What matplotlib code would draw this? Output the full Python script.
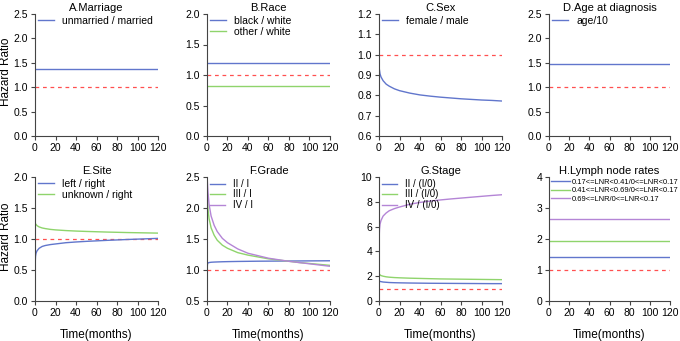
import numpy as np
import matplotlib
matplotlib.use("Agg")
import matplotlib.pyplot as plt

plt.rcParams['font.family'] = ['Liberation Sans', 'DejaVu Sans']

BLUE = '#6176cc'
GREEN = '#8fd46c'
PURPLE = '#b485d6'
RED = '#ff5050'

# time grid (months) for constant hazard ratios
t_const = [0, 120]

# A. Marriage
marriage_hr = 1.37
# B. Race
race_black = 1.20
race_other = 0.82
# D. Age
age_hr = 1.47
# H. Lymph node rates
lnr_1 = 1.43
lnr_2 = 1.92
lnr_3 = 2.65

# C. Sex (time-varying)
t_sex = [0.3, 1, 2, 4, 7, 10, 15, 20, 30, 40, 50, 60, 70, 80, 90, 100, 110, 120]
sex_hr = [0.93, 0.905, 0.89, 0.872, 0.855, 0.845, 0.832, 0.823, 0.811, 0.802, 0.796, 0.791, 0.787, 0.783, 0.780, 0.777, 0.775, 0.772]

# E. Site
t_site = [0, 0.2, 0.5, 1, 2, 4, 7, 10, 15, 20, 30, 40, 50, 60, 70, 80, 90, 100, 110, 120]
site_left = [0.0, 0.62, 0.72, 0.77, 0.81, 0.85, 0.88, 0.895, 0.91, 0.92, 0.94, 0.952, 0.962, 0.97, 0.978, 0.985, 0.992, 0.998, 1.004, 1.01]
site_unknown = [1.26, 1.255, 1.245, 1.235, 1.215, 1.195, 1.178, 1.168, 1.155, 1.147, 1.136, 1.128, 1.122, 1.117, 1.112, 1.108, 1.104, 1.101, 1.098, 1.095]

# F. Grade
t_grade = [0, 0.2, 0.5, 1, 2, 4, 7, 10, 15, 20, 30, 40, 50, 60, 70, 80, 90, 100, 110, 120]
grade_2 = [0.5, 1.05, 1.1, 1.115, 1.12, 1.125, 1.128, 1.13, 1.133, 1.135, 1.138, 1.14, 1.142, 1.143, 1.144, 1.145, 1.146, 1.147, 1.148, 1.149]
grade_3 = [2.3, 2.2, 2.1, 1.98, 1.83, 1.68, 1.56, 1.48, 1.40, 1.35, 1.28, 1.24, 1.21, 1.18, 1.16, 1.14, 1.12, 1.105, 1.09, 1.075]
grade_4 = [2.55, 2.48, 2.38, 2.25, 2.06, 1.87, 1.72, 1.62, 1.51, 1.44, 1.34, 1.27, 1.23, 1.19, 1.165, 1.14, 1.12, 1.10, 1.08, 1.06]

# G. Stage
t_stage = [0, 0.2, 0.5, 1, 2, 4, 7, 10, 15, 20, 30, 40, 50, 60, 70, 80, 90, 100, 110, 120]
stage_2 = [1.65, 1.62, 1.6, 1.58, 1.56, 1.53, 1.51, 1.49, 1.475, 1.465, 1.45, 1.44, 1.43, 1.425, 1.42, 1.415, 1.41, 1.405, 1.40, 1.40]
stage_3 = [2.25, 2.2, 2.15, 2.1, 2.05, 2.0, 1.95, 1.92, 1.89, 1.87, 1.84, 1.82, 1.80, 1.78, 1.77, 1.76, 1.75, 1.74, 1.73, 1.72]
stage_4 = [2.0, 5.2, 5.8, 6.2, 6.5, 6.85, 7.1, 7.28, 7.45, 7.58, 7.8, 7.95, 8.06, 8.15, 8.23, 8.3, 8.37, 8.44, 8.51, 8.57]

W, H = 680, 341
fig = plt.figure(figsize=(W / 100, H / 100), dpi=100)

lefts = [35, 207, 379, 549]
widths = [123, 123, 123, 121]


def make_ax(col, top, bottom):
    return fig.add_axes([lefts[col] / W, (H - bottom) / H, widths[col] / W, (bottom - top) / H])


def style(ax, title, yticks, ylabels, xlab=False):
    ax.set_xlim(0, 120)
    ax.set_ylim(yticks[0], yticks[-1])
    ax.set_xticks([0, 20, 40, 60, 80, 100, 120])
    ax.set_yticks(yticks)
    ax.set_yticklabels(ylabels)
    for s in ['top', 'right']:
        ax.spines[s].set_visible(False)
    for s in ['left', 'bottom']:
        ax.spines[s].set_color('#444444')
        ax.spines[s].set_linewidth(0.8)
    ax.tick_params(labelsize=7.5, length=3, width=0.8, color='#444444', pad=2)
    ax.set_title(title, fontsize=8, pad=2.5)
    if xlab:
        ax.set_xlabel('Time(months)', fontsize=8.5, labelpad=8)
    ax.axhline(1.0, color=RED, ls=(0, (3, 3)), lw=0.9, zorder=1)


def legend(ax, fs=7.5):
    ax.legend(loc='upper left', frameon=False, fontsize=fs, handlelength=1.5,
              handletextpad=0.8, borderaxespad=0.0, borderpad=0.2,
              labelspacing=0.05, bbox_to_anchor=(0.01, 1.0))


lw = 1.0
# top row
ax = make_ax(0, 14, 136)
ax.plot(t_const, [marriage_hr] * 2, color=BLUE, lw=lw, label='unmarried / married')
style(ax, 'A.Marriage', [0, 0.5, 1.0, 1.5, 2.0, 2.5], ['0.0', '0.5', '1.0', '1.5', '2.0', '2.5'])
legend(ax)

ax = make_ax(1, 14, 136)
ax.plot(t_const, [race_black] * 2, color=BLUE, lw=lw, label='black / white')
ax.plot(t_const, [race_other] * 2, color=GREEN, lw=lw, label='other / white')
style(ax, 'B.Race', [0, 0.5, 1.0, 1.5, 2.0], ['0.0', '0.5', '1.0', '1.5', '2.0'])
legend(ax)

ax = make_ax(2, 14, 136)
ax.plot(t_sex, sex_hr, color=BLUE, lw=lw, label='female / male')
style(ax, 'C.Sex', [0.6, 0.7, 0.8, 0.9, 1.0, 1.1, 1.2], ['0.6', '0.7', '0.8', '0.9', '1.0', '1.1', '1.2'])
legend(ax)

ax = make_ax(3, 14, 136)
ax.plot(t_const, [age_hr] * 2, color=BLUE, lw=lw, label='age/10')
style(ax, 'D.Age at diagnosis', [0, 0.5, 1.0, 1.5, 2.0, 2.5], ['0.0', '0.5', '1.0', '1.5', '2.0', '2.5'])
legend(ax)

# bottom row
ax = make_ax(0, 177, 301)
ax.plot(t_site, site_left, color=BLUE, lw=lw, label='left / right')
ax.plot(t_site, site_unknown, color=GREEN, lw=lw, label='unknown / right')
style(ax, 'E.Site', [0, 0.5, 1.0, 1.5, 2.0], ['0.0', '0.5', '1.0', '1.5', '2.0'], xlab=True)
legend(ax)

ax = make_ax(1, 177, 301)
ax.plot(t_grade, grade_2, color=BLUE, lw=lw, label='II / I')
ax.plot(t_grade, grade_3, color=GREEN, lw=lw, label='III / I')
ax.plot(t_grade, grade_4, color=PURPLE, lw=lw, label='IV / I')
style(ax, 'F.Grade', [0.5, 1.0, 1.5, 2.0, 2.5], ['0.5', '1.0', '1.5', '2.0', '2.5'], xlab=True)
legend(ax, 7)

ax = make_ax(2, 177, 301)
ax.plot(t_stage, stage_2, color=BLUE, lw=lw, label='II / (I/0)')
ax.plot(t_stage, stage_3, color=GREEN, lw=lw, label='III / (I/0)')
ax.plot(t_stage, stage_4, color=PURPLE, lw=lw, label='IV / (I/0)')
style(ax, 'G.Stage', [0, 2, 4, 6, 8, 10], ['0', '2', '4', '6', '8', '10'], xlab=True)
legend(ax, 7)

ax = make_ax(3, 177, 301)
ax.plot(t_const, [lnr_1] * 2, color=BLUE, lw=lw, label='0.17<=LNR<0.41/0<=LNR<0.17')
ax.plot(t_const, [lnr_2] * 2, color=GREEN, lw=lw, label='0.41<=LNR<0.69/0<=LNR<0.17')
ax.plot(t_const, [lnr_3] * 2, color=PURPLE, lw=lw, label='0.69<=LNR/0<=LNR<0.17')
style(ax, 'H.Lymph node rates', [0, 1, 2, 3, 4], ['0', '1', '2', '3', '4'], xlab=True)
ax.legend(loc='upper left', frameon=False, fontsize=5.4, handlelength=2.6,
          handletextpad=0.2, borderaxespad=0.0, borderpad=0.1,
          labelspacing=0.2, bbox_to_anchor=(0.01, 0.995))

# shared y labels
fig.text(6 / W, 1 - 72 / H, 'Hazard Ratio', rotation=90, ha='center', va='center', fontsize=8.5)
fig.text(6 / W, 1 - 237 / H, 'Hazard Ratio', rotation=90, ha='center', va='center', fontsize=8.5)

fig.savefig('out.png', dpi=100)
